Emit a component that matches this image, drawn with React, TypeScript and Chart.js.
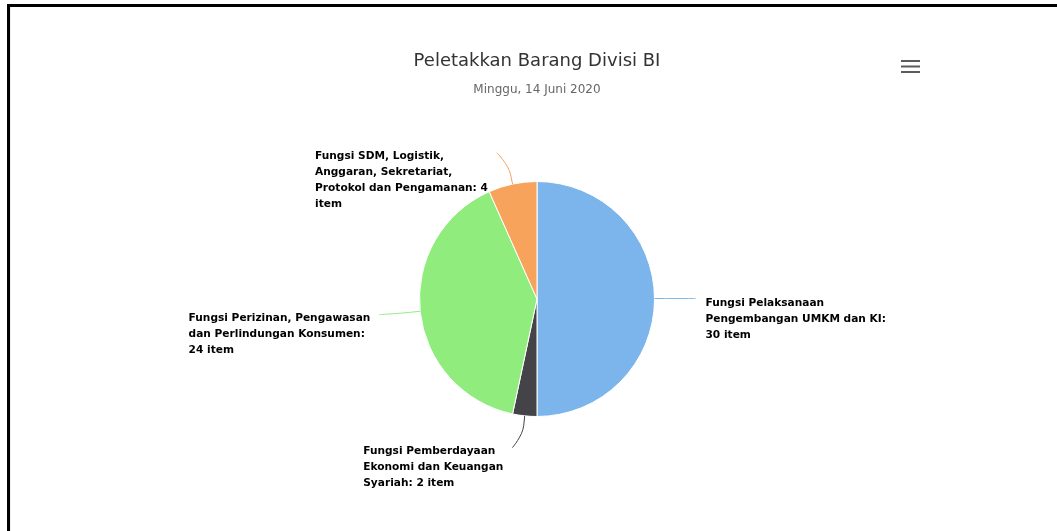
import React, { useEffect, useRef } from "react";
import { Chart, registerables } from "chart.js";

Chart.register(...registerables);

const categories = [
  "Fungsi Pelaksanaan Pengembangan UMKM dan KI",
  "Fungsi Pemberdayaan Ekonomi dan Keuangan Syariah",
  "Fungsi Perizinan, Pengawasan dan Perlindungan Konsumen",
  "Fungsi SDM, Logistik, Anggaran, Sekretariat, Protokol dan Pengamanan",
];
const itemCounts = [30, 2, 24, 4];
const sliceColors = ["#7cb5ec", "#434348", "#90ed7d", "#f7a35c"];
const titleText = "Peletakkan Barang Divisi BI";
const subtitleText = "Minggu, 14 Juni 2020";
const unitLabel = "item";

const FONT = '"DejaVu Sans", sans-serif';
const LABEL_SIZE = 10.6;
const LABEL_WRAP = 184;
const LINE_H = 16;

function wrapText(ctx: CanvasRenderingContext2D, text: string, maxW: number): string[] {
  const words = text.split(" ");
  const lines: string[] = [];
  let cur = "";
  for (const w of words) {
    const test = cur ? cur + " " + w : w;
    if (cur && ctx.measureText(test).width > maxW) {
      lines.push(cur);
      cur = w;
    } else {
      cur = test;
    }
  }
  if (cur) lines.push(cur);
  return lines;
}

const pieLabelPlugin = {
  id: "pieLabels",
  afterDatasetsDraw(chart: any) {
    const ctx: CanvasRenderingContext2D = chart.ctx;
    const meta = chart.getDatasetMeta(0);
    const ds = chart.data.datasets[0];
    const labels = chart.data.labels as string[];
    ctx.save();
    ctx.font = `bold ${LABEL_SIZE}px ${FONT}`;
    meta.data.forEach((arc: any, i: number) => {
      const { x, y, startAngle, endAngle, outerRadius } = arc.getProps(
        ["x", "y", "startAngle", "endAngle", "outerRadius"],
        true
      );
      const mid = (startAngle + endAngle) / 2;
      const dx = Math.cos(mid);
      const dy = Math.sin(mid);
      const side = dx >= -1e-6 ? 1 : -1;
      const R = outerRadius;
      const P = { x: x + R * dx, y: y + R * dy };
      const M = { x: x + (R + 10) * dx, y: y + (R + 10) * dy };
      const A = { x: x + (R + 32) * dx + side * 9, y: y + (R + 32) * dy };
      const crisp = Math.abs(dy) < 1e-6 ? -0.5 : 0;
      ctx.beginPath();
      ctx.moveTo(A.x, A.y + crisp);
      ctx.bezierCurveTo(A.x, A.y + crisp, 2 * M.x - P.x, 2 * M.y - P.y + crisp, M.x, M.y + crisp);
      ctx.lineTo(P.x, P.y + crisp);
      ctx.strokeStyle = ds.backgroundColor[i];
      ctx.lineWidth = 1;
      ctx.stroke();

      const text = `${labels[i]}: ${ds.data[i]} ${unitLabel}`;
      const lines = wrapText(ctx, text, LABEL_WRAP);
      const w = Math.max(...lines.map((l) => ctx.measureText(l).width));
      const tx = side > 0 ? A.x + 10 : A.x - 9 - w;
      const ty = A.y + 6.5;
      ctx.textAlign = "left";
      ctx.textBaseline = "alphabetic";
      lines.forEach((l, k) => {
        ctx.lineWidth = 2;
        ctx.strokeStyle = "#ffffff";
        ctx.lineJoin = "round";
        ctx.strokeText(l, tx, ty + k * LINE_H);
        ctx.fillStyle = "#000000";
        ctx.fillText(l, tx, ty + k * LINE_H);
      });
    });
    ctx.restore();
  },
  afterDraw(chart: any) {
    const ctx: CanvasRenderingContext2D = chart.ctx;
    ctx.save();
    ctx.strokeStyle = "#5c5c5c";
    ctx.lineWidth = 2;
    [54, 59.5, 65].forEach((yy) => {
      ctx.beginPath();
      ctx.moveTo(891, yy);
      ctx.lineTo(910, yy);
      ctx.stroke();
    });
    ctx.restore();
  },
};

export default function App() {
  const ref = useRef<HTMLCanvasElement | null>(null);
  useEffect(() => {
    if (!ref.current) return;
    const chart = new Chart(ref.current, {
      type: "pie",
      data: {
        labels: categories,
        datasets: [
          {
            data: itemCounts,
            backgroundColor: sliceColors,
            borderColor: "#ffffff",
            borderWidth: 1,
          },
        ],
      },
      options: {
        responsive: false,
        animation: false,
        events: [],
        layout: { padding: { top: 0, bottom: 114, left: 0, right: 0 } },
        plugins: {
          legend: { display: false },
          tooltip: { enabled: false },
          title: {
            display: true,
            text: titleText,
            color: "#333333",
            font: { family: FONT, size: 18, weight: "normal", lineHeight: 1.2 },
            padding: { top: 44, bottom: 10 },
          },
          subtitle: {
            display: true,
            text: subtitleText,
            color: "#666666",
            font: { family: FONT, size: 12, weight: "normal", lineHeight: 1.2 },
            padding: { top: 0, bottom: 84 },
          },
        },
      },
      plugins: [pieLabelPlugin],
    });
    return () => chart.destroy();
  }, []);

  return (
    <div
      style={{
        position: "fixed",
        left: 0,
        top: 0,
        width: 1057,
        height: 531,
        overflow: "hidden",
        background: "#ffffff",
      }}
    >
      <div
        style={{
          position: "absolute",
          left: 7,
          top: 4,
          width: 2000,
          height: 2000,
          borderLeft: "3px solid #000",
          borderTop: "3px solid #000",
        }}
      />
      <div
        style={{
          position: "absolute",
          left: 10,
          top: 7,
          width: 1,
          height: 524,
          background: "#eeeeee",
        }}
      />
      <canvas
        ref={ref}
        width={1054}
        height={524}
        style={{ position: "absolute", left: 10, top: 7, width: 1054, height: 524 }}
      />
    </div>
  );
}
